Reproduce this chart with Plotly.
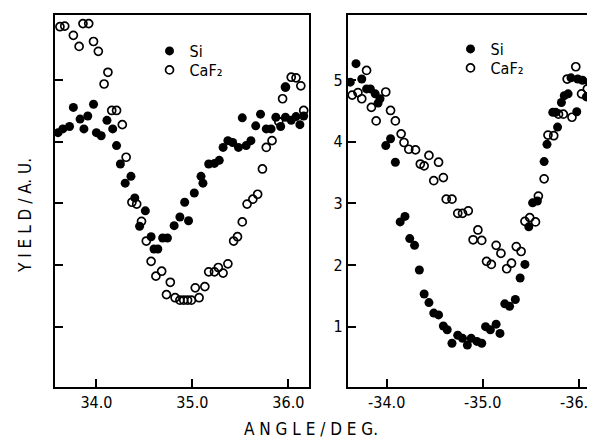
import plotly.graph_objects as go

# ---------------- data ----------------
si_left_x = [33.60, 33.65, 33.72, 33.76, 33.83, 33.87, 33.91, 33.97, 34.00, 34.05,
             34.11, 34.17, 34.21, 34.25, 34.30, 34.36, 34.40, 34.45, 34.51, 34.57,
             34.60, 34.64, 34.69, 34.74, 34.81, 34.87, 34.92, 34.96, 35.02, 35.09,
             35.11, 35.17, 35.23, 35.28, 35.32, 35.37, 35.42, 35.48, 35.52, 35.56,
             35.61, 35.66, 35.71, 35.77, 35.82, 35.87, 35.92, 35.97, 35.97, 36.03,
             36.08, 36.12, 36.16]
si_left_y = [4.15, 4.21, 4.25, 4.56, 4.37, 4.21, 4.42, 4.61, 4.15, 4.10,
             4.35, 4.21, 3.94, 3.64, 3.33, 3.44, 3.09, 2.63, 2.88, 2.46,
             2.26, 2.26, 2.44, 2.44, 2.64, 2.78, 3.02, 2.72, 3.17, 3.44,
             3.33, 3.64, 3.65, 3.70, 3.91, 4.02, 3.99, 3.91, 4.39, 3.94,
             4.02, 4.26, 4.45, 4.21, 4.21, 4.40, 4.25, 4.40, 4.89, 4.35,
             4.41, 4.28, 4.42]

caf2_left_x = [33.62, 33.67, 33.76, 33.82, 33.86, 33.92, 33.97, 34.02, 34.08, 34.12,
               34.16, 34.21, 34.27, 34.31, 34.37, 34.42, 34.47, 34.52, 34.57, 34.62,
               34.68, 34.73, 34.77, 34.82, 34.87, 34.91, 34.95, 34.99, 35.03, 35.07,
               35.13, 35.17, 35.23, 35.27, 35.32, 35.37, 35.43, 35.47, 35.52, 35.57,
               35.63, 35.68, 35.73, 35.77, 35.83, 35.90, 35.94, 35.97, 36.03, 36.08,
               36.13, 36.16]
caf2_left_y = [5.87, 5.88, 5.73, 5.55, 5.92, 5.92, 5.63, 5.47, 4.94, 5.13,
               4.51, 4.51, 4.28, 3.75, 3.02, 2.99, 2.71, 2.39, 2.06, 1.82,
               1.90, 1.52, 1.72, 1.47, 1.43, 1.43, 1.43, 1.43, 1.63, 1.47,
               1.65, 1.89, 1.89, 1.96, 1.87, 2.02, 2.39, 2.46, 2.70, 2.99,
               3.07, 3.15, 3.56, 3.91, 4.02, 4.33, 4.70, 4.89, 5.05, 5.04,
               4.91, 4.51]

si_right_x = [-33.62, -33.68, -33.74, -33.79, -33.83, -33.88, -33.91, -33.93, -33.99, -34.04,
              -34.09, -34.14, -34.19, -34.24, -34.29, -34.34, -34.39, -34.44, -34.49, -34.54,
              -34.59, -34.63, -34.68, -34.74, -34.79, -34.84, -34.88, -34.94, -34.99, -35.03,
              -35.08, -35.14, -35.18, -35.23, -35.28, -35.34, -35.39, -35.44, -35.48, -35.52,
              -35.57, -35.64, -35.67, -35.73, -35.76, -35.78, -35.82, -35.85, -35.89, -35.92,
              -35.98, -35.99, -36.04, -36.08, -36.11, -36.15]
si_right_y = [4.97, 5.27, 5.02, 4.86, 4.86, 4.78, 4.63, 4.70, 3.94, 4.05,
              3.67, 2.70, 2.79, 2.43, 2.32, 1.92, 1.53, 1.39, 1.22, 1.19,
              1.01, 0.95, 0.73, 0.86, 0.81, 0.70, 0.81, 0.76, 0.73, 1.00,
              0.95, 1.04, 0.89, 1.37, 1.33, 1.44, 1.79, 2.01, 2.62, 3.01,
              3.04, 3.68, 3.96, 4.48, 4.48, 4.24, 4.64, 4.75, 4.78, 5.04,
              4.49, 5.02, 5.00, 4.73, 4.97, 5.11]

caf2_right_x = [-33.64, -33.70, -33.74, -33.79, -33.84, -33.89, -33.99, -34.04, -34.09, -34.15,
                -34.18, -34.23, -34.30, -34.35, -34.39, -34.44, -34.49, -34.54, -34.59, -34.62,
                -34.68, -34.74, -34.79, -34.85, -34.90, -34.95, -34.99, -35.04, -35.09, -35.14,
                -35.19, -35.25, -35.30, -35.35, -35.40, -35.44, -35.49, -35.55, -35.58, -35.64,
                -35.68, -35.74, -35.79, -35.84, -35.88, -35.93, -35.97, -36.03, -36.09]
caf2_right_y = [4.76, 4.80, 4.70, 5.16, 4.56, 4.34, 4.81, 4.51, 4.34, 4.13,
                3.99, 3.88, 3.87, 3.64, 3.61, 3.78, 3.37, 3.67, 3.42, 3.07,
                3.07, 2.84, 2.84, 2.88, 2.41, 2.57, 2.40, 2.06, 2.01, 2.32,
                2.19, 1.94, 2.03, 2.30, 2.22, 2.71, 2.77, 2.70, 3.12, 3.40,
                4.11, 4.10, 4.45, 4.45, 5.02, 4.40, 5.22, 4.78, 4.86]

series_names = ["Si", "CaF\u2082"]
left_xticks = [34.0, 35.0, 36.0]
left_xtick_labels = ["34.0", "35.0", "36.0"]
right_xticks = [-34.0, -35.0, -36.0]
right_xtick_labels = ["-34.0", "-35.0", "-36.0"]
yticks = [1, 2, 3, 4, 5]
ytick_labels = ["1", "2", "3", "4", "5"]

FONT = "Liberation Sans Narrow, DejaVu Sans Condensed, Liberation Sans, sans-serif"
W, H = 595, 438
D = 8                      # page body offset of the rendered figure
MT = 15 - D                # plot top at window y = 15
MB = H - (387 - D)         # plot bottom at window y = 387
PH = H - MT - MB


def px(wx):
    return (wx - D) / W


def py(wy):
    return (387 - wy) / PH


fig = go.Figure()

filled = dict(symbol="circle", size=9, color="black")
opened = dict(symbol="circle-open", size=8, color="black", line=dict(width=1.7, color="black"))

fig.add_trace(go.Scatter(x=si_left_x, y=si_left_y, mode="markers", marker=filled,
                         name=series_names[0], xaxis="x", yaxis="y", legend="legend2"))
fig.add_trace(go.Scatter(x=caf2_left_x, y=caf2_left_y, mode="markers", marker=opened,
                         name=series_names[1], xaxis="x", yaxis="y", legend="legend3"))
fig.add_trace(go.Scatter(x=si_right_x, y=si_right_y, mode="markers", marker=filled,
                         name=series_names[0], xaxis="x2", yaxis="y2", legend="legend4"))
fig.add_trace(go.Scatter(x=caf2_right_x, y=caf2_right_y, mode="markers", marker=opened,
                         name=series_names[1], xaxis="x2", yaxis="y2", legend="legend5"))

axis_common = dict(showgrid=False, zeroline=False, showline=True, linecolor="black",
                   linewidth=2, ticks="inside", ticklen=8, tickwidth=2, tickcolor="black",
                   tickfont=dict(family=FONT, size=16, color="black"))

left_dom = [px(55), px(310)]
right_dom = [px(349), 1.0]
# right panel scale: 96.3 px per degree, -33.595 at the left border
right_end = -33.595 - (W - (349 - D)) / 96.3

legend_common = dict(xref="paper", yref="paper", xanchor="left", yanchor="top",
                     bgcolor="rgba(0,0,0,0)", font=dict(family=FONT, size=16, color="black"),
                     itemwidth=30, tracegroupgap=0, visible=True)

fig.update_layout(
    width=W, height=H,
    margin=dict(l=0, r=0, t=MT, b=MB),
    paper_bgcolor="white", plot_bgcolor="white",
    font=dict(family=FONT, size=16, color="black"),
    showlegend=True,
    xaxis=dict(axis_common, domain=left_dom, range=[33.567, 36.215], mirror=True,
               tickvals=left_xticks, ticktext=left_xtick_labels, anchor="y"),
    yaxis=dict(axis_common, domain=[0, 1], range=[0.02, 6.06], mirror=True,
               tickvals=yticks, showticklabels=False, anchor="x"),
    xaxis2=dict(axis_common, domain=right_dom, range=[-33.595, right_end], mirror=True,
                tickvals=right_xticks, ticktext=right_xtick_labels, anchor="y2"),
    yaxis2=dict(axis_common, domain=[0, 1], range=[0.02, 6.06], mirror=True,
                tickvals=yticks, ticktext=ytick_labels, anchor="x2"),
    legend2=dict(legend_common, x=px(150), y=py(34)),
    legend3=dict(legend_common, x=px(150), y=py(53)),
    legend4=dict(legend_common, x=px(452), y=py(32)),
    legend5=dict(legend_common, x=px(452), y=py(51)),
    annotations=[
        dict(text="A N G L E / D E G.", x=px(312), y=py(429), xref="paper", yref="paper",
             xanchor="center", yanchor="middle", showarrow=False,
             font=dict(family=FONT, size=17, color="black")),
        dict(text="Y I E L D / A. U.", x=px(25), y=py(215), xref="paper", yref="paper",
             xanchor="center", yanchor="middle", textangle=-90, showarrow=False,
             font=dict(family=FONT, size=17, color="black")),
    ],
)

fig.write_html("out.html")
